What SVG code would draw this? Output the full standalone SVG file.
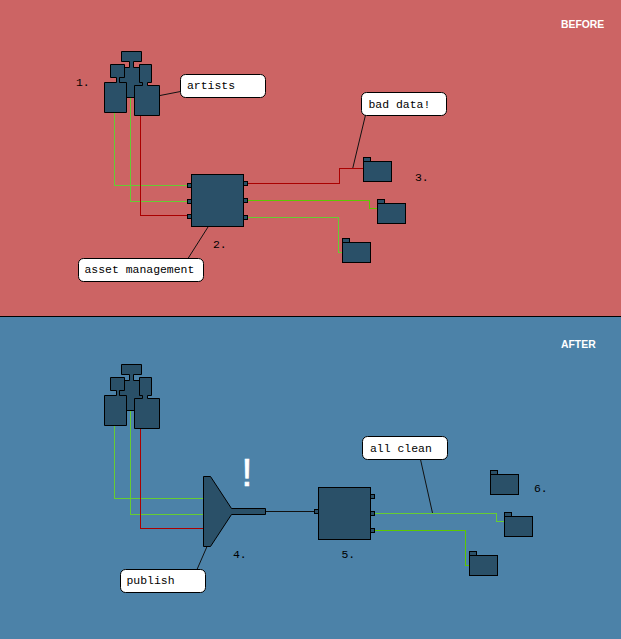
<svg xmlns="http://www.w3.org/2000/svg" width="621" height="639" viewBox="0 0 621 639">
<style>
.n{fill:#2a5068;stroke:#000;stroke-width:1}
.w{fill:none;stroke-width:1;shape-rendering:crispEdges}
.g1{stroke:#66cc33}
.g2{stroke:#5cc800}
.r{stroke:#aa0000}
.k{fill:none;stroke:#111;stroke-width:1}
.c{fill:#fff;stroke:#000;stroke-width:1}
.t{font-family:"Liberation Mono",monospace;font-size:11.45px;fill:#000}
.h{font-family:"Liberation Sans",Arial,sans-serif;font-size:10.400px;font-weight:bold;fill:#fff}
</style>
<defs>
<g id="people">
<path class="n" d="M121.500 51.500H141.500V61.500H133.500V67.500H143.500V97.500H119.500V67.500H129.500V61.500H121.500Z"/>
<path class="n" d="M110.500 64.500H124.500V77.500H119.500V82.500H126.500V112.500H104.500V82.500H116.500V77.500H110.500Z"/>
<path class="n" d="M139.500 64.500H151.500V82.500H147.500V85.500H159.500V115.500H134.500V85.500H142.500V82.500H139.500Z"/>
</g>
<g id="folder">
<rect class="n" x="0" y="0" width="7" height="4"/>
<rect class="n" x="0" y="4" width="28" height="20"/>
</g>
</defs>
<rect x="0" y="0" width="621" height="316" fill="#cc6464"/>
<rect x="0" y="317" width="621" height="322" fill="#4c82a8"/>
<path d="M0 316.500H621" stroke="#000" stroke-width="1"/>
<g id="connectors">
<path class="w g1" d="M114.500 112V185.500H188"/>
<path class="w g1" d="M130.500 97V201.500H188"/>
<path class="w r" d="M140.500 115V215.500H188"/>
<path class="w r" d="M247 183.500H339.500V168.500H364"/>
<path class="w g2" d="M247 200.500H369.500V208.500H378"/>
<path class="w g1" d="M247 217.500H338.500V252.500H343"/>
<path class="w g1" d="M114.500 425V498.500H204"/>
<path class="w g1" d="M130.500 410V514.500H204"/>
<path class="w r" d="M140.500 428V528.500H204"/>
<path class="k" d="M265.500 511.500H315"/>
<path class="w g1" d="M374 513.500H496.500V521.500H505"/>
<path class="w g2" d="M374 530.500H465.500V565.500H470"/>
<path class="k" d="M160 95.500L180.500 91.500"/>
<path class="k" d="M365.500 115L352.800 168"/>
<path class="k" d="M208 227L188 258.500"/>
<path class="k" d="M206.800 547L197 569.500"/>
<path class="k" d="M420.500 459.500L432.500 513"/>
</g>
<g id="node-artists-before"><use href="#people"/></g>
<g id="node-asset-management">
<rect class="n" x="191.500" y="174.500" width="52" height="52"/>
<rect class="n" x="187.500" y="183.500" width="4" height="4"/>
<rect class="n" x="187.500" y="199.500" width="4" height="4"/>
<rect class="n" x="187.500" y="214.500" width="4" height="4"/>
<rect class="n" x="243.500" y="181.500" width="4" height="4"/>
<rect class="n" x="243.500" y="198.500" width="4" height="4"/>
<rect class="n" x="243.500" y="215.500" width="4" height="4"/>
</g>
<g id="node-folder-b1"><use href="#folder" x="363.500" y="157.500"/></g>
<g id="node-folder-b2"><use href="#folder" x="377.500" y="199.500"/></g>
<g id="node-folder-b3"><use href="#folder" x="342.500" y="238.500"/></g>
<g id="node-artists-after"><use href="#people" y="313"/></g>
<g id="node-publish">
<path class="n" d="M203.500 476.500H210.500L231.500 508.500H265.500V514.500H231.500L210.500 546.500H203.500Z"/>
</g>
<g id="node-clean-system">
<rect class="n" x="318.500" y="487.500" width="52" height="52"/>
<rect class="n" x="314.500" y="509.500" width="4" height="4"/>
<rect class="n" x="370.500" y="494.500" width="4" height="4"/>
<rect class="n" x="370.500" y="511.500" width="4" height="4"/>
<rect class="n" x="370.500" y="528.500" width="4" height="4"/>
</g>
<g id="node-folder-a1"><use href="#folder" x="490.500" y="470.500"/></g>
<g id="node-folder-a2"><use href="#folder" x="504.500" y="512.500"/></g>
<g id="node-folder-a3"><use href="#folder" x="469.500" y="551.500"/></g>
<g id="callout-artists"><rect class="c" x="180.500" y="74.500" width="85" height="23" rx="5"/><text class="t" x="187" y="89">artists</text></g>
<g id="callout-bad-data"><rect class="c" x="361.500" y="92.500" width="85" height="23" rx="5"/><text class="t" x="368.500" y="108">bad data!</text></g>
<g id="callout-asset"><rect class="c" x="78.500" y="258.500" width="125" height="23" rx="5"/><text class="t" x="84.500" y="273">asset management</text></g>
<g id="callout-publish"><rect class="c" x="120.500" y="569.500" width="85" height="23" rx="5"/><text class="t" x="126.500" y="584">publish</text></g>
<g id="callout-clean"><rect class="c" x="362.500" y="436.500" width="85" height="23" rx="5"/><text class="t" x="370" y="452">all clean</text></g>
<g id="labels">
<text class="t" x="76" y="86">1.</text>
<text class="t" x="213" y="248">2.</text>
<text class="t" x="415" y="181">3.</text>
<text class="t" x="233" y="558">4.</text>
<text class="t" x="341.500" y="558">5.</text>
<text class="t" x="534" y="492">6.</text>
<text class="h" x="561" y="28">BEFORE</text>
<text class="h" x="561" y="348">AFTER</text>
<text x="247" y="486" text-anchor="middle" font-family="Liberation Sans,Arial,sans-serif" font-size="39" fill="#fff" stroke="#fff" stroke-width="0.6">!</text>
</g>
</svg>
